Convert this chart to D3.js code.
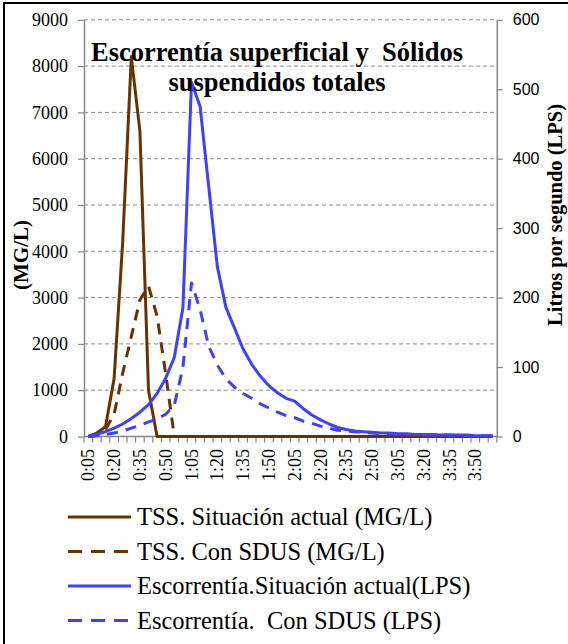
<!DOCTYPE html>
<html><head><meta charset="utf-8">
<script src="https://cdn.jsdelivr.net/npm/d3@7"></script>
<style>body{margin:0;background:#fff}svg{display:block}</style>
</head><body>
<svg id="c" width="568" height="644"></svg>
<script>
// ---- data ----
const categories = [];
for (let m = 5; m <= 240; m += 5) categories.push(Math.floor(m/60) + ":" + String(m%60).padStart(2,"0"));
const tssActual = [0,75,210,1250,4200,8200,6600,1000,0,0,0,0,0,0,0,0,0,0,0,0,0,0,0,0,0,0,0,0,0,0,0,0,0,0,0,0,0,0,0,0,0,0,0,0,0,0,0,0];
const tssSdus   = [0,20,150,480,1370,2160,2950,3250,2600,1350,0,0,0,0,0,0,0,0,0,0,0,0,0,0,0,0,0,0,0,0,0,0,0,0,0,0,0,0,0,0,0,0,0,0,0,0,0,0];
const runoffActual = [0,3,7,12,18,26,35,46,62,84,114,185,510,475,360,245,186,156,126,104,87,73,63,55,51,40,31,24,18,13,10,8,7,6,5,5,4,4,3,3,3,2,2,2,2,1,1,1];
const runoffSdus   = [0,1,3,5,8,12,16,21,25,32,45,99,221,183,130,103,83,71,62,55,47,41,35,30,27,22,19,15,12,9,8,7,6,5,4,4,3,3,3,2,2,2,2,1,1,1,1,1];
const leftTicks = [0,1000,2000,3000,4000,5000,6000,7000,8000,9000];
const rightTicks = [0,100,200,300,400,500,600];
const titleLines = ["Escorrentía superficial y  Sólidos", "suspendidos totales"];
const leftTitle = "(MG/L)";
const rightTitle = "Litros por segundo (LPS)";
const legendItems = [
  {name:"TSS. Situación actual (MG/L)", color:"#663300", dash:null},
  {name:"TSS. Con SDUS (MG/L)", color:"#663300", dash:"11,8"},
  {name:"Escorrentía.Situación actual(LPS)", color:"#4040ff", dash:null},
  {name:"Escorrentía.  Con SDUS (LPS)", color:"#4040ff", dash:"11,8"}
];

const serif = "'Liberation Serif','Times New Roman',serif";
const svg = d3.select("#c");

// frame
svg.append("line").attr("x1",4).attr("x2",4).attr("y1",2).attr("y2",644).attr("stroke","#000").attr("stroke-width",2);
svg.append("line").attr("x1",3).attr("x2",568).attr("y1",3).attr("y2",3).attr("stroke","#000").attr("stroke-width",2);

const x = d3.scaleBand().domain(categories).range([84, 496.8]);
const cx = c => x(c) + x.bandwidth()/2;
const yL = d3.scaleLinear().domain([0,9000]).range([436.5,19.8]);
const yR = d3.scaleLinear().domain([0,600]).range([436.5,19.8]);

// gridlines
svg.append("g").selectAll("line").data(leftTicks.filter(d=>d>0)).join("line")
  .attr("x1",84).attr("x2",496.8).attr("y1",d=>yL(d)).attr("y2",d=>yL(d))
  .attr("stroke","#8c8c8c").attr("stroke-width",1).attr("stroke-dasharray","4,3");

// left axis
const gl = svg.append("g").attr("transform","translate(84,0)")
  .call(d3.axisLeft(yL).tickValues(leftTicks).tickFormat(d3.format("d")).tickSize(6).tickSizeOuter(0).tickPadding(10));
gl.attr("font-family",null);
gl.select(".domain").attr("stroke","#868686").attr("stroke-width",1.5);
gl.selectAll(".tick line").attr("stroke","#868686").attr("stroke-width",1.2);
gl.selectAll("text").style("font-family",serif).style("font-size","18px").attr("fill","#000");

// right axis
const gr = svg.append("g").attr("transform","translate(496.8,0)")
  .call(d3.axisRight(yR).tickValues(rightTicks).tickFormat(d3.format("d")).tickSize(6).tickSizeOuter(0).tickPadding(10));
gr.select(".domain").attr("stroke","#868686").attr("stroke-width",1.5);
gr.selectAll(".tick line").attr("stroke","#868686").attr("stroke-width",1.2);
gr.selectAll("text").style("font-family","'Liberation Sans Narrow','Liberation Sans',sans-serif").style("font-size","16px").attr("fill","#000");

// x axis
svg.append("line").attr("x1",84).attr("x2",496.8).attr("y1",yL(0)).attr("y2",yL(0)).attr("stroke","#868686").attr("stroke-width",1.5);
svg.append("g").selectAll("line").data(categories.concat(["__end"])).join("line")
  .attr("x1",d=>d==="__end"?x.range()[1]:x(d)).attr("x2",d=>d==="__end"?x.range()[1]:x(d))
  .attr("y1",yL(0)).attr("y2",yL(0)+6).attr("stroke","#868686").attr("stroke-width",1.2);
svg.append("g").selectAll("text").data(categories.filter((d,i)=>i%3===0)).join("text")
  .attr("transform",d=>`translate(${cx(d)+6},449) rotate(-90)`)
  .attr("text-anchor","end").style("font-family",serif).style("font-size","18px").text(d=>d);

// series
const lineL = d3.line().x((d,i)=>cx(categories[i])).y(d=>yL(d));
const lineR = d3.line().x((d,i)=>cx(categories[i])).y(d=>yR(d));
const series = [
  {data:tssActual, gen:lineL, color:"#663300", dash:null},
  {data:tssSdus, gen:lineL, color:"#663300", dash:"11,8"},
  {data:runoffActual, gen:lineR, color:"#4040ff", dash:null},
  {data:runoffSdus, gen:lineR, color:"#4040ff", dash:"11,8"}
];
series.forEach(s=>{
  svg.append("path").attr("d",s.gen(s.data)).attr("fill","none").attr("stroke",s.color)
    .attr("stroke-width",3).attr("stroke-linejoin","round").attr("stroke-dasharray",s.dash);
});

// title
svg.append("g").selectAll("text").data(titleLines).join("text")
  .attr("x",277).attr("y",(d,i)=>61+i*30).attr("text-anchor","middle")
  .style("font-family",serif).attr("font-weight","bold").style("font-size","26.5px")
  .style("white-space","pre").text(d=>d);

// axis titles
svg.append("text").attr("transform","translate(28,255) rotate(-90)").attr("text-anchor","middle")
  .style("font-family",serif).attr("font-weight","bold").style("font-size","21px").text(leftTitle);
svg.append("text").attr("transform","translate(562,215) rotate(-90)").attr("text-anchor","middle")
  .style("font-family",serif).attr("font-weight","bold").style("font-size","20.5px").text(rightTitle);

// legend
const lg = svg.append("g").selectAll("g").data(legendItems).join("g")
  .attr("transform",(d,i)=>`translate(0,${517+i*34.5})`);
lg.append("line").attr("x1",68).attr("x2",131).attr("y1",0).attr("y2",0)
  .attr("stroke",d=>d.color).attr("stroke-width",3).attr("stroke-dasharray",d=>d.dash?"14,9":null);
lg.append("text").attr("x",137).attr("y",0).attr("dy","0.33em")
  .style("font-family",serif).style("font-size","24.5px").style("white-space","pre").text(d=>d.name);
</script>
</body></html>
